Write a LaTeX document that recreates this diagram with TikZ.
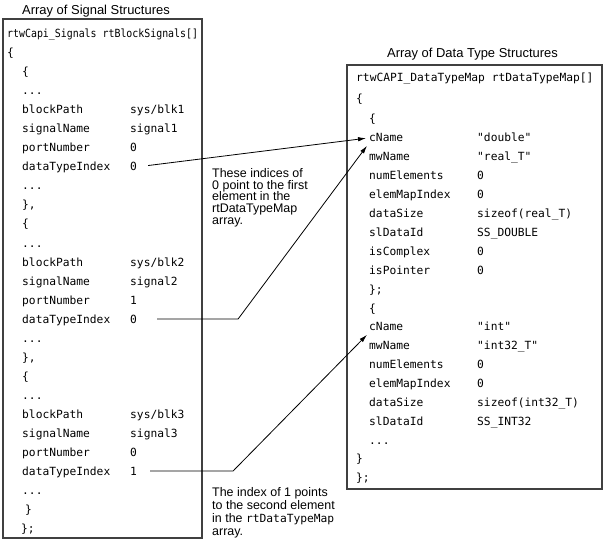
\documentclass[tikz,border=0pt]{standalone}
\usepackage{fontspec}
\setsansfont{Liberation Sans}
\setmonofont{DejaVu Sans Mono}
\usepackage{graphicx}
\usetikzlibrary{arrows.meta}
\newcommand{\threedots}{...}

\begin{document}
\begin{tikzpicture}[x=1bp, y=-1bp,
        code/.style={font=\ttfamily\fontsize{11.3}{13}\selectfont, anchor=base west, inner sep=0pt},
        heading/.style={font=\sffamily\fontsize{13}{15}\selectfont, anchor=base west, inner sep=0pt},
        note/.style={font=\sffamily\fontsize{12.5}{11.9}\selectfont, align=left, anchor=north west, inner sep=0pt},
        frame/.style={draw=black!75, line width=1.1bp},
        link/.style={-{Latex[length=8bp,width=4.5bp]}, line width=0.8bp}]
    \useasboundingbox[fill=white] (0,0) rectangle (604,544);

    % signal structures
    \node[heading] (sigtitle) at (22,15) {Array of Signal Structures};
    \draw[frame] (3,19) rectangle (202,538);
    \node[code] (sk0) at (7,38) {\scalebox{0.88}[1]{rtwCapi\_Signals rtBlockSignals[]}};
    \node[code] (sk1) at (7,57) {\{};
    \foreach \k/\v [count=\i from 2] in {\{/, \threedots/, blockPath/{sys/blk1}, signalName/signal1,
            portNumber/0, dataTypeIndex/0, \threedots/, {\},}/, \{/, \threedots/,
            blockPath/{sys/blk2}, signalName/signal2, portNumber/1, dataTypeIndex/0,
            \threedots/, {\},}/, \{/, \threedots/, blockPath/{sys/blk3}, signalName/signal3,
            portNumber/0, dataTypeIndex/1, \threedots/}
        {
        \node[code] (sk\i) at (22,{38+19*\i}) {\k};
        \node[code] (sv\i) at (130,{38+19*\i}) {\v};
        }
    \node[code] (sk25) at (25,513) {\}};
    \node[code] (sk26) at (21,532) {\};};

    % data type structures
    \node[heading] (dtitle) at (387,58) {Array of Data Type Structures};
    \draw[frame] (347,65) rectangle (602,489);
    \node[code] (dk0) at (356,82) {rtwCAPI\_DataTypeMap rtDataTypeMap[]};
    \node[code] (dk1) at (356,103) {\{};
    \foreach \k/\v [count=\i from 2] in {\{/, cName/"double", mwName/"real\_T", numElements/0,
            elemMapIndex/0, dataSize/sizeof(real\_T), slDataId/SS\_DOUBLE, isComplex/0,
            isPointer/0, \};/, \{/, cName/"int", mwName/"int32\_T", numElements/0,
            elemMapIndex/0, dataSize/sizeof(int32\_T), slDataId/SS\_INT32, \threedots/}
        {
        \node[code] (dk\i) at (369,{85.2+18.9*\i}) {\k};
        \node[code] (dv\i) at (477,{85.2+18.9*\i}) {\v};
        }
    \node[code] (dk20) at (356,462) {\}};
    \node[code] (dk21) at (356,481) {\};};

    % index links
    \draw[link, shorten <=11bp, shorten >=3bp] (sv7.east) -- (dk3.west);
    \draw[link, shorten <=20bp] (sv15.east) -- ++(101,0) -- ([xshift=-2bp,yshift=11bp]dk4.west);
    \draw[link, shorten <=13bp] (sv23.east) -- ++(96,0) -- ([xshift=-2bp,yshift=11bp]dk14.west);

    \node[note] (note1) at (212,168) {These indices of\\0 point to the first\\element in the\\rtDataTypeMap\\array.};
    \node[note, font=\sffamily\fontsize{12.5}{13.2}\selectfont] (note2) at (212,487)
        {The index of 1 points\\to the second element\\in the {\ttfamily\fontsize{11.3}{13.2}\selectfont rtDataTypeMap}\\array.};
\end{tikzpicture}
\end{document}
